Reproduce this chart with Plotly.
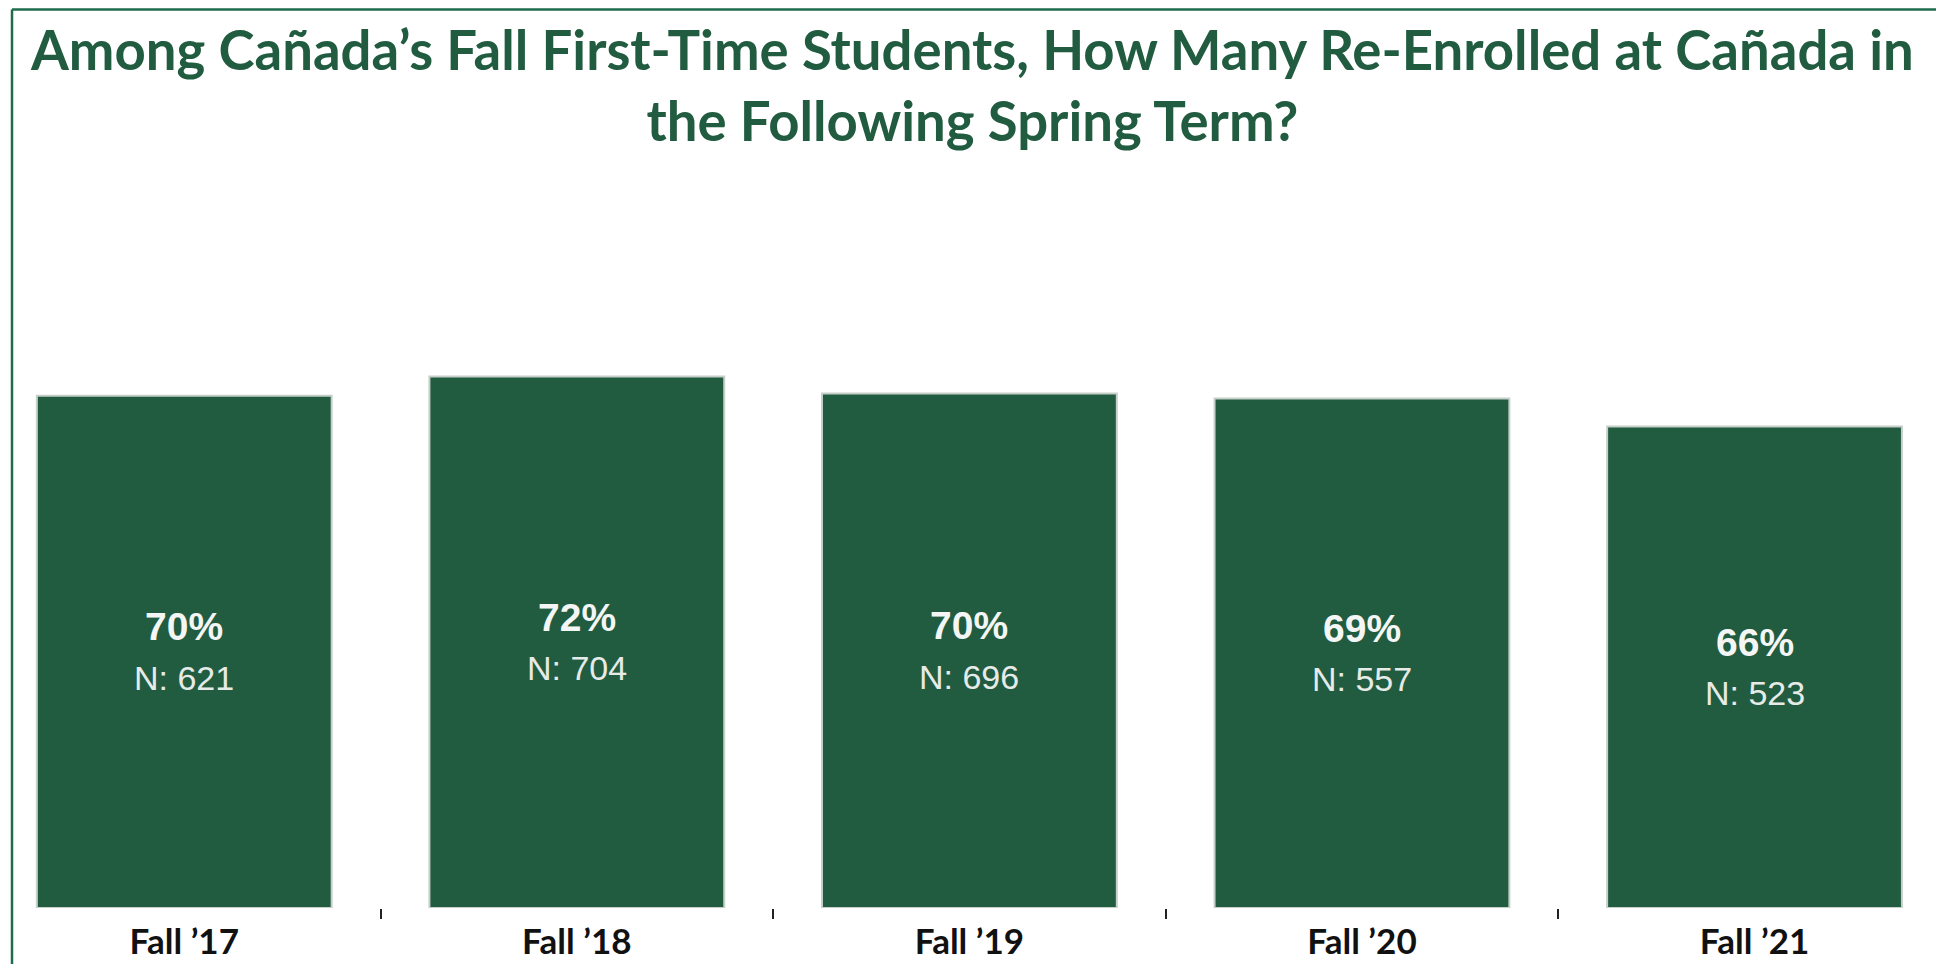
import plotly.graph_objects as go

# ---- data ----
periods = ["Fall ’17", "Fall ’18", "Fall ’19", "Fall ’20", "Fall ’21"]
rates = [69.8, 72.4, 70.1, 69.4, 65.6]      # % re-enrolled in following spring
counts = [621, 704, 696, 557, 523]          # N re-enrolled

TITLE = "Among Cañada’s Fall First-Time Students, How Many Re-Enrolled at Cañada in<br>the Following Spring Term?"

# ---- style / layout constants ----
W, H = 1944, 964
M_T, M_B = 166, 64
GREEN = "#215C41"
BORDER = "#1E6B4E"

fig = go.Figure()
fig.add_trace(go.Bar(
    x=periods, y=rates,
    marker=dict(color=GREEN, line=dict(color="#c6cfca", width=2)),
    hoverinfo="skip",
))

# labels in the middle of the bars
for p, r, n in zip(periods, rates, counts):
    fig.add_annotation(x=p, y=r / 2, text=f"<b>{r:.0f}%</b>", showarrow=False,
                       yshift=25, font=dict(family="Liberation Sans, Arial", size=39, color="#f4f6f5"))
    fig.add_annotation(x=p, y=r / 2, text=f"N: {n}", showarrow=False,
                       yshift=-26, font=dict(family="Liberation Sans, Arial", size=34, color="#e6ebe8"))

ph = H - M_T - M_B
def py(px):  # pixel row -> paper y
    return (H - M_B - px) / ph

border = [
    (4 / W, py(1.5), 4 / W, py(962), BORDER),
    (1942 / W, py(1.5), 1942 / W, py(962), BORDER),
    (4 / W, py(1.5), 1942 / W, py(1.5), BORDER),
    (4 / W, py(962), 1942 / W, py(962), "#d5dad8"),
]
for x0, y0, x1, y1, c in border:
    fig.add_shape(type="line", xref="paper", yref="paper", x0=x0, y0=y0, x1=x1, y1=y1,
                  line=dict(color=c, width=2.5))

fig.add_annotation(xref="paper", yref="paper", x=0.496, y=py(76), xanchor="center", yanchor="middle",
                   text=TITLE, showarrow=False, align="center",
                   font=dict(family="Lato", size=54.5, color=GREEN, weight="bold"))

fig.update_layout(
    width=W, height=H,
    margin=dict(l=0, r=0, t=M_T, b=M_B),
    paper_bgcolor="white", plot_bgcolor="white",
    bargap=0.249,
    showlegend=False,
    xaxis=dict(
        type="category",
        range=[-0.449, 4.503],
        tickson="boundaries",
        ticks="outside", ticklen=10, tickwidth=2, tickcolor="#222222",
        ticklabelstandoff=10,
        showline=False, showgrid=False, zeroline=False,
        tickfont=dict(family="Lato", size=35, color="#111111", weight="bold"),
    ),
    yaxis=dict(range=[0, 100], visible=False, showgrid=False, zeroline=False),
)

fig.write_html("out.html")
